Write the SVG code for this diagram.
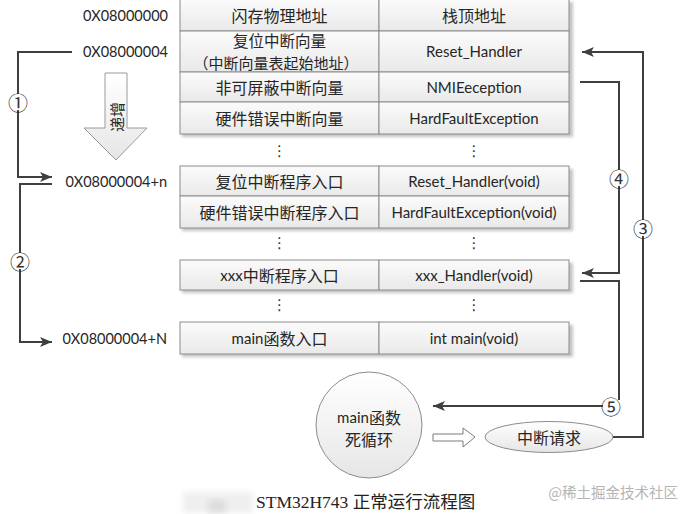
<svg xmlns="http://www.w3.org/2000/svg" width="694" height="514" viewBox="0 0 694 514">
<style>
.cell{fill:url(#cg);stroke:#8c8c8c;stroke-width:1}
.sh{fill:#c4c4c4;filter:url(#blur)}
.cn{font-family:"Noto Sans CJK SC","Lato",sans-serif;font-size:16px;fill:#262626;text-anchor:middle;dominant-baseline:central}
.en{font-family:"Lato","Noto Sans CJK SC",sans-serif;font-size:15px;fill:#262626;text-anchor:middle;dominant-baseline:central}
.addr{font-family:"Lato",sans-serif;font-size:14.5px;fill:#262626;text-anchor:end;dominant-baseline:central}
.dots{font-family:"DejaVu Sans",sans-serif;font-size:15px;fill:#333;text-anchor:middle;dominant-baseline:central}
.ln{fill:none;stroke:#3f3f3f;stroke-width:2}
.arr{marker-end:url(#ah)}
.num{font-family:"Noto Sans CJK SC","DejaVu Sans",sans-serif;font-size:20px;fill:#333;text-anchor:middle;dominant-baseline:central}
</style>
<defs>
<linearGradient id="cg" x1="0" y1="0" x2="0" y2="1"><stop offset="0" stop-color="#fbfbfb"/><stop offset="1" stop-color="#e9e9e9"/></linearGradient>
<linearGradient id="bg" x1="0" y1="0" x2="0" y2="1"><stop offset="0" stop-color="#ffffff"/><stop offset="1" stop-color="#e6e6e6"/></linearGradient>
<filter id="blur" x="-10%" y="-10%" width="120%" height="130%"><feGaussianBlur stdDeviation="1.5"/></filter>
<filter id="blur2" x="-20%" y="-20%" width="140%" height="140%"><feGaussianBlur stdDeviation="3"/></filter>
<marker id="ah" viewBox="0 0 12 10" refX="12" refY="5" markerWidth="12" markerHeight="10" markerUnits="userSpaceOnUse" orient="auto"><path d="M0,0 L12,5 L0,10 L3,5 Z" fill="#3f3f3f"/></marker>
</defs>
<rect width="694" height="514" fill="#ffffff"/>

<g id="shadows">
<rect class="sh" x="182" y="2" width="391" height="135"/>
<rect class="sh" x="182" y="169" width="391" height="62"/>
<rect class="sh" x="182" y="263" width="391" height="30"/>
<rect class="sh" x="182" y="325" width="391" height="32"/>
</g>

<g id="row-header">
<rect class="cell" x="180" y="-1" width="199" height="32"/><rect class="cell" x="379" y="-1" width="190" height="32"/>
<text class="cn" x="279.5" y="15">闪存物理地址</text><text class="cn" x="474" y="15">栈顶地址</text>
</g>
<g id="row-reset-vector">
<rect class="cell" x="180" y="31" width="199" height="41"/><rect class="cell" x="379" y="31" width="190" height="41"/>
<text class="cn" x="279.5" y="40" style="font-size:15.5px">复位中断向量</text><text class="cn" x="276" y="62" style="font-size:15px">（中断向量表起始地址）</text>
<text class="en" x="474" y="51">Reset_Handler</text>
</g>
<g id="row-nmi">
<rect class="cell" x="180" y="72" width="199" height="30"/><rect class="cell" x="379" y="72" width="190" height="30"/>
<text class="cn" x="279.5" y="87">非可屏蔽中断向量</text><text class="en" x="474" y="87">NMIEeception</text>
</g>
<g id="row-hardfault">
<rect class="cell" x="180" y="102" width="199" height="32"/><rect class="cell" x="379" y="102" width="190" height="32"/>
<text class="cn" x="279.5" y="118">硬件错误中断向量</text><text class="en" x="474" y="118">HardFaultException</text>
</g>
<g id="dots1"><text class="dots" x="279.5" y="151">⋮</text><text class="dots" x="474" y="151">⋮</text></g>
<g id="row-reset-entry">
<rect class="cell" x="180" y="166" width="199" height="30"/><rect class="cell" x="379" y="166" width="190" height="30"/>
<text class="cn" x="279.5" y="181">复位中断程序入口</text><text class="en" x="474" y="181">Reset_Handler(void)</text>
</g>
<g id="row-hardfault-entry">
<rect class="cell" x="180" y="196" width="199" height="32"/><rect class="cell" x="379" y="196" width="190" height="32"/>
<text class="cn" x="279.5" y="212">硬件错误中断程序入口</text><text class="en" x="474" y="212">HardFaultException(void)</text>
</g>
<g id="dots2"><text class="dots" x="279.5" y="243">⋮</text><text class="dots" x="474" y="243">⋮</text></g>
<g id="row-xxx">
<rect class="cell" x="180" y="260" width="199" height="30"/><rect class="cell" x="379" y="260" width="190" height="30"/>
<text class="cn" x="279.5" y="275"><tspan style="font-family:Lato,sans-serif;font-size:15px">xxx</tspan>中断程序入口</text><text class="en" x="474" y="275">xxx_Handler(void)</text>
</g>
<g id="dots3"><text class="dots" x="279.5" y="305">⋮</text><text class="dots" x="474" y="305">⋮</text></g>
<g id="row-main">
<rect class="cell" x="180" y="322" width="199" height="32"/><rect class="cell" x="379" y="322" width="190" height="32"/>
<text class="cn" x="279.5" y="338"><tspan style="font-family:Lato,sans-serif;font-size:15px">main</tspan>函数入口</text><text class="en" x="474" y="338">int main(void)</text>
</g>

<g id="addresses">
<text class="addr" x="168" y="15">0X08000000</text>
<text class="addr" x="168" y="51">0X08000004</text>
<text class="addr" x="167" y="181">0X08000004+n</text>
<text class="addr" x="167" y="338">0X08000004+N</text>
</g>

<g id="increase-arrow">
<polygon points="105,73 127,73 127,128 147,128 116,160 84,128 105,128" fill="url(#bg)" stroke="#9a9a9a" stroke-width="1"/>
<text class="cn" x="116" y="117" transform="rotate(-90 116 117)" style="font-size:15px">递增</text>
</g>

<g id="main-loop">
<circle cx="369" cy="425" r="53" fill="url(#bg)" stroke="#8c8c8c" stroke-width="1"/>
<text class="cn" x="369" y="417"><tspan style="font-family:Lato,sans-serif;font-size:15px">main</tspan>函数</text>
<text class="cn" x="369" y="439">死循环</text>
</g>
<g id="irq-request">
<ellipse cx="549" cy="437" rx="64" ry="15.5" fill="url(#bg)" stroke="#8c8c8c" stroke-width="1"/>
<text class="cn" x="549" y="437">中断请求</text>
</g>

<g id="connectors">
<polyline class="ln" points="72,52 18,52 18,94"/>
<polyline class="ln arr" points="18,110 18,177 52,177"/>
<text class="num" x="18" y="102">①</text>
<polyline class="ln" points="52,184 20,184 20,253"/>
<polyline class="ln arr" points="20,269 20,342 52,342"/>
<text class="num" x="20" y="261">②</text>
<polyline class="ln" points="613,437 643,437 643,236"/>
<polyline class="ln arr" points="643,220 643,52 582,52"/>
<text class="num" x="643" y="228">③</text>
<polyline class="ln" points="580,82 619,82 619,170"/>
<polyline class="ln arr" points="619,186 619,273 582,273"/>
<text class="num" x="619" y="178">④</text>
<polyline class="ln" points="580,281 619,281 619,400"/>
<polyline class="ln arr" points="603,406 433,406"/>
<text class="num" x="611" y="406">⑤</text>
<polygon points="433,434 463,434 463,428 475,437 463,447 463,441 433,441" fill="#ffffff" stroke="#7a7a7a" stroke-width="1"/>
</g>

<g id="caption">
<rect x="183" y="492" width="70" height="21" fill="#efefef" filter="url(#blur2)"/>
<rect x="208" y="500" width="18" height="12" fill="#dcdcdc" filter="url(#blur2)"/>
<text x="256" y="502" style="font-family:'Liberation Serif','Noto Sans CJK SC',serif;font-size:17.5px;fill:#222;dominant-baseline:central">STM32H743 正常运行流程图</text>
<text x="678" y="491" style="font-family:'Noto Sans CJK SC',sans-serif;font-size:14.5px;fill:#b4b4b4;text-anchor:end;dominant-baseline:central">@稀土掘金技术社区</text>
</g>
</svg>
